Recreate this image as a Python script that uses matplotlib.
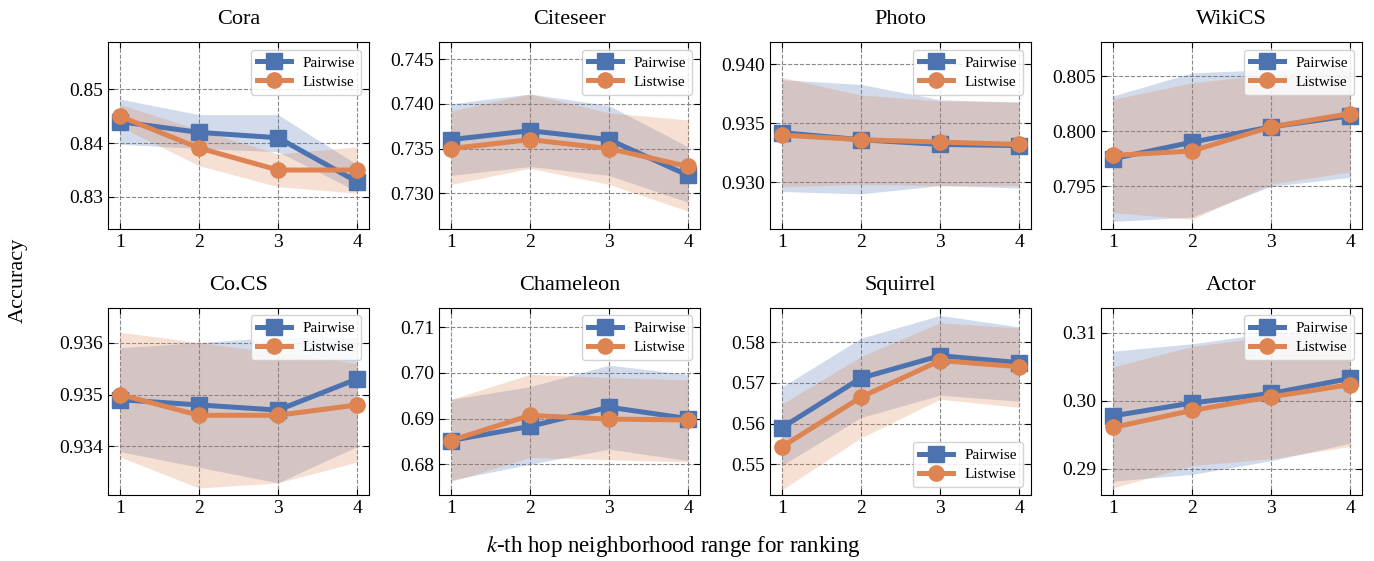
import numpy as np
import matplotlib.pyplot as plt
from matplotlib.ticker import FormatStrFormatter

plt.rcParams['font.family'] = ['Liberation Serif', 'DejaVu Serif']
plt.rcParams['mathtext.fontset'] = 'stix'

# ==========================================================
# Data
# ==========================================================

hops = [1, 2, 3, 4]
datasets = ["Cora", "Citeseer", "Photo", "WikiCS",
            "Co.CS", "Chameleon", "Squirrel", "Actor"]

pair_mean = {
    "Cora":      [0.8440, 0.8420, 0.8410, 0.8328],
    "Citeseer":  [0.7360, 0.7370, 0.7360, 0.7320],
    "Photo":     [0.9342, 0.9336, 0.9332, 0.9331],
    "WikiCS":    [0.7975, 0.7990, 0.8004, 0.8014],
    "Co.CS":     [0.93490, 0.93480, 0.93470, 0.93530],
    "Chameleon": [0.6852, 0.6883, 0.6925, 0.6900],
    "Squirrel":  [0.5590, 0.5712, 0.5767, 0.5750],
    "Actor":     [0.2978, 0.2997, 0.3011, 0.3033],
}
pair_hi = {
    "Cora":      [0.8482, 0.8453, 0.8453, 0.8360],
    "Citeseer":  [0.7400, 0.7411, 0.7398, 0.7352],
    "Photo":     [0.9387, 0.9383, 0.9370, 0.9368],
    "WikiCS":    [0.8032, 0.8053, 0.8056, 0.8058],
    "Co.CS":     [0.93590, 0.93600, 0.93610, 0.93610],
    "Chameleon": [0.6942, 0.6970, 0.7017, 0.6997],
    "Squirrel":  [0.5690, 0.5810, 0.5866, 0.5838],
    "Actor":     [0.3073, 0.3084, 0.3100, 0.3100],
}
pair_lo = {
    "Cora":      [0.8398, 0.8390, 0.8384, 0.8310],
    "Citeseer":  [0.7320, 0.7330, 0.7320, 0.7290],
    "Photo":     [0.9292, 0.9290, 0.9297, 0.9295],
    "WikiCS":    [0.7918, 0.7922, 0.7950, 0.7958],
    "Co.CS":     [0.93390, 0.93360, 0.93330, 0.93400],
    "Chameleon": [0.6765, 0.6800, 0.6833, 0.6808],
    "Squirrel":  [0.5497, 0.5615, 0.5670, 0.5655],
    "Actor":     [0.2882, 0.2892, 0.2912, 0.2938],
}

list_mean = {
    "Cora":      [0.8450, 0.8391, 0.8350, 0.8350],
    "Citeseer":  [0.7350, 0.7360, 0.7350, 0.7330],
    "Photo":     [0.9340, 0.9336, 0.9334, 0.9332],
    "WikiCS":    [0.7978, 0.7982, 0.8004, 0.8016],
    "Co.CS":     [0.93500, 0.93460, 0.93460, 0.93480],
    "Chameleon": [0.6852, 0.6907, 0.6899, 0.6897],
    "Squirrel":  [0.5543, 0.5665, 0.5755, 0.5740],
    "Actor":     [0.2961, 0.2986, 0.3006, 0.3024],
}
list_hi = {
    "Cora":      [0.8472, 0.8425, 0.8380, 0.8393],
    "Citeseer":  [0.7392, 0.7411, 0.7390, 0.7382],
    "Photo":     [0.9389, 0.9374, 0.9369, 0.9368],
    "WikiCS":    [0.8029, 0.8044, 0.8052, 0.8055],
    "Co.CS":     [0.93620, 0.93600, 0.93580, 0.93560],
    "Chameleon": [0.6942, 0.6997, 0.6990, 0.6985],
    "Squirrel":  [0.5648, 0.5765, 0.5848, 0.5835],
    "Actor":     [0.3050, 0.3080, 0.3095, 0.3095],
}
list_lo = {
    "Cora":      [0.8431, 0.8358, 0.8319, 0.8307],
    "Citeseer":  [0.7310, 0.7328, 0.7310, 0.7280],
    "Photo":     [0.9296, 0.9298, 0.9297, 0.9297],
    "WikiCS":    [0.7926, 0.7920, 0.7952, 0.7963],
    "Co.CS":     [0.93380, 0.93320, 0.93330, 0.93370],
    "Chameleon": [0.6762, 0.6815, 0.6810, 0.6805],
    "Squirrel":  [0.5437, 0.5565, 0.5660, 0.5640],
    "Actor":     [0.2872, 0.2905, 0.2915, 0.2933],
}

ylims = {
    "Cora":      (0.8240, 0.8588),
    "Citeseer":  (0.7260, 0.7469),
    "Photo":     (0.9260, 0.9419),
    "WikiCS":    (0.7911, 0.8081),
    "Co.CS":     (0.93307, 0.93667),
    "Chameleon": (0.6733, 0.7143),
    "Squirrel":  (0.5425, 0.5885),
    "Actor":     (0.2862, 0.3137),
}
yticks = {
    "Cora":      [0.83, 0.84, 0.85],
    "Citeseer":  [0.730, 0.735, 0.740, 0.745],
    "Photo":     [0.930, 0.935, 0.940],
    "WikiCS":    [0.795, 0.800, 0.805],
    "Co.CS":     [0.934, 0.935, 0.936],
    "Chameleon": [0.68, 0.69, 0.70, 0.71],
    "Squirrel":  [0.55, 0.56, 0.57, 0.58],
    "Actor":     [0.29, 0.30, 0.31],
}
yfmt = {
    "Cora": "%.2f", "Citeseer": "%.3f", "Photo": "%.3f", "WikiCS": "%.3f",
    "Co.CS": "%.3f", "Chameleon": "%.2f", "Squirrel": "%.2f", "Actor": "%.2f",
}

BLUE = "#4C72B0"
ORANGE = "#DD8452"

# ==========================================================
# Plot
# ==========================================================

fig, axes = plt.subplots(2, 4, figsize=(13.74, 5.61), dpi=100)
fig.subplots_adjust(left=0.0786, right=0.9913, top=0.925, bottom=0.118,
                    wspace=0.268, hspace=0.42)

for ax, name in zip(axes.flat, datasets):
    ax.fill_between(hops, pair_lo[name], pair_hi[name], color=BLUE,
                    alpha=0.25, linewidth=0)
    ax.fill_between(hops, list_lo[name], list_hi[name], color=ORANGE,
                    alpha=0.25, linewidth=0)
    ax.plot(hops, pair_mean[name], color=BLUE, marker="s", markersize=11,
            linewidth=3.6, label="Pairwise")
    ax.plot(hops, list_mean[name], color=ORANGE, marker="o", markersize=11,
            linewidth=3.6, label="Listwise")

    ax.set_title(name, fontsize=16, pad=13)
    ax.set_xlim(0.85, 4.15)
    ax.set_xticks(hops)
    ax.set_ylim(*ylims[name])
    ax.set_yticks(yticks[name])
    ax.yaxis.set_major_formatter(FormatStrFormatter(yfmt[name]))
    ax.tick_params(direction="in", top=True, right=True, labelsize=14,
                   length=4, width=0.8)
    ax.grid(True, linestyle="--", color="#888888", linewidth=0.8)
    ax.set_axisbelow(True)

    loc = "lower right" if name == "Squirrel" else "upper right"
    ax.legend(loc=loc, fontsize=11, handlelength=2.2, borderpad=0.4,
              labelspacing=0.35, edgecolor="#cccccc", framealpha=0.85)

fig.text(0.013, 0.5, "Accuracy", rotation=90, ha="center", va="center",
         fontsize=16)
fig.text(0.49, 0.025, r"$k$-th hop neighborhood range for ranking",
         ha="center", va="center", fontsize=16.5)

fig.savefig("out.png", dpi=100)
